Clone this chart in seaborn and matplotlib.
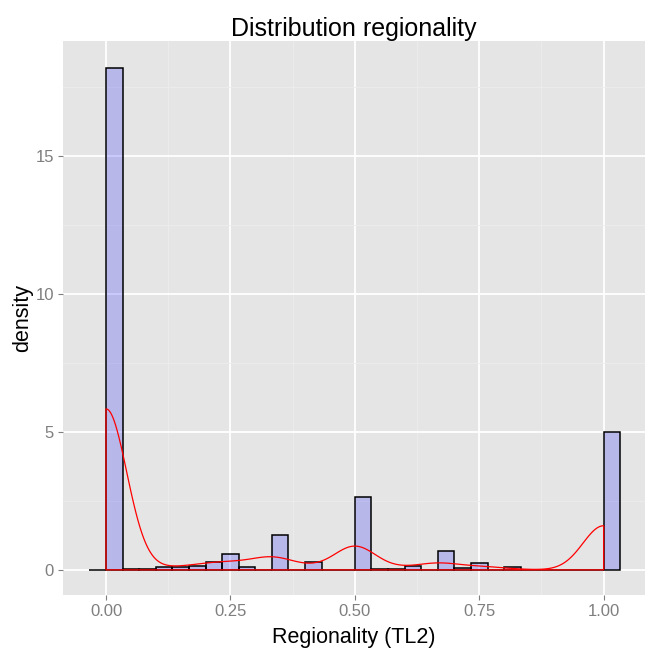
import numpy as np
import pandas as pd
import matplotlib
matplotlib.use("Agg")
import matplotlib.pyplot as plt
import seaborn as sns

# ---- data ----
values = [0.0, 0.0625, 0.0833, 0.1111, 0.1429, 0.1818, 0.2, 0.25, 0.2857, 0.3,
          0.3334, 0.375, 0.4, 0.4444, 0.4706, 0.5, 0.5556, 0.5714, 0.6, 0.6364,
          0.6667, 0.7143, 0.75, 0.7778, 0.8, 1.0]
counts = [1823, 2, 2, 9, 10, 15, 28, 58, 9, 1,
          127, 1, 27, 1, 1, 264, 3, 3, 14, 1,
          67, 7, 25, 1, 9, 500]
x_ticks = [0.0, 0.25, 0.5, 0.75, 1.0]
x_tick_labels = ["0.00", "0.25", "0.50", "0.75", "1.00"]
y_ticks = [0, 5, 10, 15]
y_tick_labels = ["0", "5", "10", "15"]
title = "Distribution regionality"
x_label = "Regionality (TL2)"
y_label = "density"
kde_bandwidth = 0.0415

df = pd.DataFrame({"regionality": values, "n": counts})

sns.set_theme(style="darkgrid", rc={
    "axes.facecolor": "#E5E5E5",
    "figure.facecolor": "white",
    "grid.color": "white",
})
plt.rcParams["font.family"] = ["Liberation Sans", "DejaVu Sans"]

fig = plt.figure(figsize=(6.48, 6.53), dpi=100)
ax = fig.add_axes([63 / 648, 1 - 595 / 653, (645 - 63) / 648, (595 - 41.3) / 653])

binw = 1 / 30
edges = (np.arange(33) * binw - binw - 1e-9).tolist()

sns.histplot(data=df, x="regionality", weights="n", stat="density", bins=edges,
             ax=ax, color="blue", alpha=0.2, edgecolor="black", linewidth=1.1,
             zorder=3)
# keep facecolor alpha but solid edges
for p in ax.patches:
    p.set_facecolor((0, 0, 1, 0.2))
    p.set_edgecolor((0, 0, 0, 1))

w = np.asarray(counts, float)
v = np.asarray(values, float)
std_w = np.sqrt(np.cov(v, aweights=w))
n_before = len(ax.collections)
sns.kdeplot(data=df, x="regionality", weights="n", bw_method=kde_bandwidth / std_w,
            cut=0, gridsize=512, fill=True, color="red",
            linewidth=0.9, ax=ax)
for c in ax.collections[n_before:]:
    c.set_facecolor("none")
    c.set_edgecolor("red")
    c.set_alpha(None)
    c.set_zorder(4)

ax.set_xlim(-0.0864, 1.083)
ax.set_ylim(-0.91, 19.14)
ax.set_xticks(x_ticks)
ax.set_xticklabels(x_tick_labels)
ax.set_yticks(y_ticks)
ax.set_yticklabels(y_tick_labels)
ax.set_xticks([0.125, 0.375, 0.625, 0.875], minor=True)
ax.set_yticks([2.5, 7.5, 12.5, 17.5], minor=True)
ax.grid(which="major", color="white", linewidth=1.3)
ax.grid(which="minor", color="#EDEDED", linewidth=0.6)
ax.set_axisbelow(True)
for s in ax.spines.values():
    s.set_visible(False)
ax.tick_params(axis="both", which="major", length=3.5, width=0.8, color="#7F7F7F",
               labelcolor="#7F7F7F", labelsize=12, pad=3, bottom=True, left=True)
ax.tick_params(axis="both", which="minor", length=0)

ax.set_xlabel(x_label, fontsize=15.5, color="black", labelpad=6)
ax.set_ylabel(y_label, fontsize=15.5, color="black", labelpad=2)
ax.set_title(title, fontsize=18, color="black", pad=4)

fig.savefig("out.png", dpi=100)
